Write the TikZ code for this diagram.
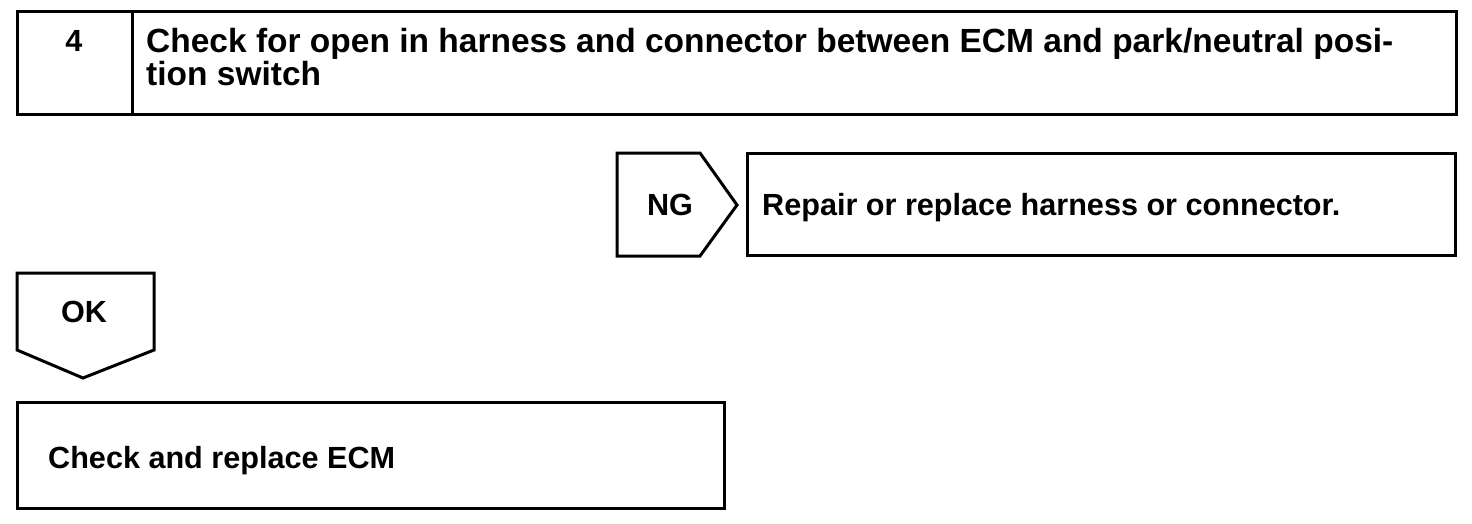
\documentclass[tikz,border=0pt]{standalone}
\usepackage{fontspec}
\setmainfont{Liberation Sans}
\begin{document}
\begin{tikzpicture}[x=1pt,y=-1pt,
  frame/.style={draw=black,line width=3pt,line join=miter},
  txt/.style={inner sep=0pt,anchor=base west,font=\fontsize{30.6}{34}\selectfont\bfseries},
  title/.style={txt,font=\fontsize{33.5}{36}\selectfont\bfseries}]
\useasboundingbox (0,0) rectangle (1472,524);
% top box
\draw[frame] (17,12) rectangle (1456,115);
\draw[frame] (132,12) -- (132,115);
\node[txt,anchor=base] (num) at (74,52) {4};
\node[title] (t1) at (146,53) {Check for open in harness and connector between ECM and park/neutral posi-};
\node[title] (t2) at (146,86) {tion switch};
% NG
\draw[frame] (617,153) -- (700,153) -- (737,205) -- (700,256) -- (617,256) -- cycle;
\node[txt,anchor=base] (ng) at (670,215) {NG};
\draw[frame] (747,153) rectangle (1455,255);
\node[txt] (rep) at (762,215) {Repair or replace harness or connector.};
% OK
\draw[frame] (17,273) -- (154,273) -- (154,350) -- (83,378) -- (17,350) -- cycle;
\node[txt,anchor=base] (ok) at (84,322) {OK};
% final box
\draw[frame] (17,402) rectangle (724,508);
\node[txt] (ecm) at (48,468) {Check and replace ECM};
\end{tikzpicture}
\end{document}
